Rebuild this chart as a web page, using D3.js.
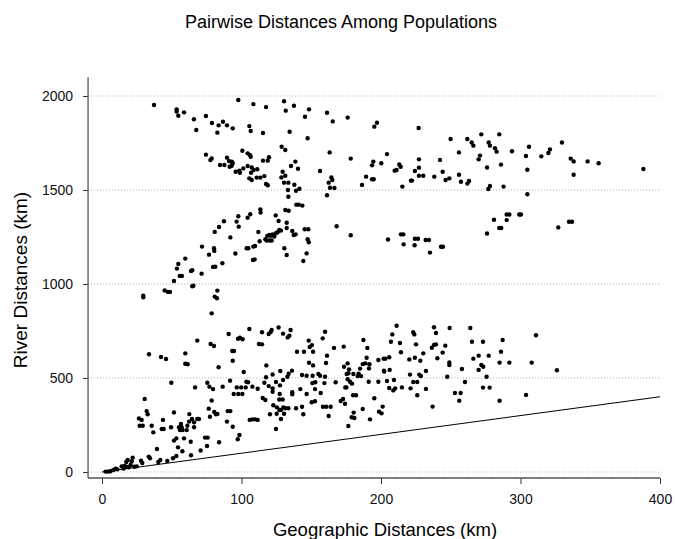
<!DOCTYPE html>
<html>
<head>
<meta charset="utf-8">
<script src="https://cdn.jsdelivr.net/npm/d3@7"></script>
<style>
  body { margin: 0; background: #fff; }
  svg { display: block; font-family: "Liberation Sans", Arial, sans-serif; }
</style>
</head>
<body>
<script>
// [geographic km, river km] pairs
const upperBand = [
  [37.3,1952],[53.5,1929],[53.5,1917],[54.7,1895],[58.8,1913],[65.9,1876],[67.6,1819],[74.5,1894],[78.8,1856],[83.6,1844],
  [82.7,1805],[86.7,1863],[89.6,1844],[93.7,1828],[97.7,1979],[108.5,1957],[117.6,1941],[105.6,1840],[106.6,1814],[115.4,1803],
  [130.5,1972],[131.7,1922],[137.6,1948],[148.4,1929],[145.5,1890],[134.5,1810],[147.4,1775],[161.3,1911],[165.4,1865],[176.1,1885],
  [195.2,1837],[197.1,1858],
  [74.5,1688],[78.6,1668],[77.7,1659],[84.6,1633],[87.7,1633],[89.6,1672],[91,1654],[93,1651],[93.7,1642],[91.5,1624],
  [93,1629],[95.8,1597],[98.4,1603],[98.9,1592],[101.3,1615],[100.6,1709],[104.4,1695],[106,1686],[106.6,1677],[104.4,1628],
  [107.3,1620],[106.8,1592],[108.7,1606],[111.3,1610],[105.6,1562],[107.3,1553],[110.9,1566],[113.5,1566],[116.4,1574],[115.4,1656],
  [118.8,1656],[119.7,1674],[117.6,1532],[118.8,1525],[128.8,1730],[131.4,1713],[129.5,1597],[131.4,1576],[128.6,1567],[130.5,1539],
  [133.6,1539],[135.5,1628],[138.6,1651],[140.5,1613],[137.9,1528],[141.5,1507],[139.1,1496],[133.3,1500],[133.6,1464],[156.3,1601],
  [163.2,1700],[164.4,1567],[165.1,1553],[162.5,1539],[163.4,1512],[166.6,1511],[161.3,1472],[178.3,1667],[189.3,1571],[193.6,1557],
  [194.8,1557],[186.4,1527],[193.6,1631],[194.5,1651],
  [227,1830],[249.9,1771],[261.9,1771],[265,1753],[266.2,1736],[271.9,1796],[277.2,1753],[278.1,1736],[284.8,1796],[281.7,1722],
  [282.9,1704],[293.9,1706],[255.9,1700],[271,1683],[270,1663],[276,1620],[286,1635],[303.9,1681],[306.1,1730],[304.9,1608],
  [314.9,1679],[320,1697],[321.1,1716],[329.7,1753],[336,1667],[338.1,1652],[338.1,1581],[348.1,1652],[356,1642],[388.1,1612],
  [204.3,1691],[200.2,1642],[209.8,1603],[211.2,1606],[213.1,1636],[214.1,1624],[215.3,1518],[221.5,1550],[222.2,1550],[224.3,1601],
  [227.2,1619],[227.2,1663],[227.2,1576],[230.3,1576],[238.2,1571],[242.3,1660],[244.2,1597],[246.3,1553],[249,1562],[255.9,1581],
  [257.3,1544],[261.9,1534],[263.1,1548],[276.9,1505],[278.1,1521],[287.9,1518],[304.9,1477]
];

const middleBand = [
  [139.3,1422],[141,1422],[143.6,1417],[113.5,1397],[113.7,1380],[106.3,1371],[104.4,1353],[97.7,1360],[96.5,1332],[98,1305],
  [87.4,1334],[83.9,1303],[80.8,1277],[124.5,1365],[131.4,1394],[133.8,1390],[126.6,1335],[132.4,1326],[132.4,1298],[127.1,1287],
  [128.3,1284],[125.9,1275],[124.7,1270],[122.3,1264],[120,1261],[118.5,1256],[117.1,1238],[118,1231],[120,1231],[121.6,1231],
  [123.5,1252],[120.9,1256],[136.4,1282],[138.8,1264],[137.4,1261],[145.3,1291],[147.9,1291],[147.4,1238],[148.2,1222],[130.7,1190],
  [132.4,1154],[146.7,1163],[144.3,1122],[168.2,1307],[178.3,1259],[112.1,1277],[113,1227],[109.7,1202],[108.5,1199],[104.9,1190],
  [103.7,1190],[95.6,1162],[92,1248],[109.4,1131],[108.2,1128],[86.3,1110],[81.2,1092],[79.6,1091],[80.3,1190],[80.5,1176],
  [71.7,1199],[76.7,1156],[59.7,1135],[54.7,1107],[53.7,1082],[55.7,1043],[57.3,1043],[51.6,1016],[64.7,1073],[63.8,1069],
  [71.4,1055],[65.5,991],[64.7,988],[44.9,966],[47.3,958],[48.7,958],[29.6,938],[29.6,929],[82.7,965],[80.8,933],
  [82.4,924],[78.6,844],
  [205,1237],[214.3,1264],[216,1264],[216.2,1211],[224.3,1241],[226.5,1241],[224.1,1206],[232,1234],[234.4,1234],[235.1,1167],
  [243,1198],[244.4,1198],[276,1269],[281,1342],[284.8,1298],[286.2,1298],[290.1,1340],[290.1,1370],[292,1370],[299.1,1370],
  [300.3,1370],[327.1,1301],[334.8,1331],[336.9,1331]
];

const lowerBand = [
  [90.8,734],[97.5,709],[98.9,714],[100.8,706],[105.6,761],[114.7,743],[119.5,734],[120.9,745],[121.6,755],[126.6,769],
  [129.8,736],[133.1,716],[134.3,725],[135.2,755],[68.3,699],[77.9,681],[80.3,670],[33.7,626],[42.3,612],[45.9,601],
  [59.7,631],[59.7,576],[61.4,573],[93.4,644],[94.6,644],[93.7,592],[112.5,681],[114.7,679],[83.6,557],[117.8,567],
  [136.2,539],[139.8,640],[144.8,640],[148.9,665],[151.3,640],[150.5,675],[148.2,699],[148.4,581],[151.3,567],[158.2,711],
  [159.9,746],[160.6,580],[161.3,619],[166.3,660],[173.3,667],[173.5,560],[176.1,578],[177.1,546],[187.4,702],[190.2,660],
  [189.7,608],[188.8,578],[186.9,574],[191.7,573],[185,550],[191.4,551],[198.1,596],
  [103.5,480],[104.7,477],[107.8,454],[111.6,443],[117.6,504],[115.2,394],[117.1,383],[116.4,475],[119.5,457],[122.3,445],
  [122.3,427],[122.3,519],[124.7,479],[127.6,461],[127.4,415],[127.8,537],[129.8,489],[132.9,507],[133.8,523],[127.1,386],
  [129.5,386],[127.1,330],[122.8,355],[125.4,344],[128.3,330],[130,344],[131.4,339],[133.6,339],[120.4,307],[125.2,310],
  [128.3,282],[130.5,310],[124.7,229],[136.4,424],[136.4,413],[139.1,339],[143.4,516],[146.7,512],[151,512],[155.1,521],
  [156.3,512],[150.8,473],[152.9,477],[159.4,473],[159.9,507],[142.2,441],[146.7,415],[150.3,371],[152.7,376],[152.7,441],
  [156.8,420],[158.4,347],[160.8,347],[162.5,298],[163.9,347],[167.5,477],[171.1,378],[174.2,363],[172.8,388],[175.4,521],
  [174.4,450],[175.2,450],[176.1,493],[177.8,480],[179.2,470],[176.6,525],[180.2,521],[184,523],[183.3,510],[185.7,510],
  [191.2,480],[195.2,392],[198.1,480],[180,408],[182.1,408],[180.4,316],[179,291],[180.9,287],[176.6,245],[186.9,335],
  [192.1,280],[198.6,321],[144.3,307],[143.4,347],[105.9,277],[107.8,280],[109.7,280],[111.6,277],
  [49.7,475],[66.7,450],[75.5,475],[77,454],[79.6,441],[86.5,454],[91.8,486],[96.6,450],[99.7,450],[103,450],
  [94.4,415],[97.7,415],[100.6,415],[101.6,532],[30.6,388],[32,324],[32.7,307],[26.5,285],[28.4,277],[27,246],
  [29.2,246],[35.6,246],[36.8,211],[43.7,277],[42.8,229],[44.2,229],[51.6,317],[49.5,238],[56.6,255],[55.2,238],
  [57.1,238],[57.8,223],[55.9,223],[61.2,246],[62.4,268],[64.5,282],[66,264],[68.3,282],[69.5,282],[66,238],
  [62.6,308],[60.7,223],[51.6,167],[53.3,179],[58.8,179],[63.6,161],[54.5,131],[73.9,183],[75.8,183],[70.7,114],
  [75.3,138],[83.9,158],[78.6,380],[76.5,337],[80.5,319],[81.7,307],[82.7,309],[77.4,294],[89.6,268],[90.1,324],
  [92,324],[93.7,241],[97.3,174],[98.5,197],[39.4,122],[57.6,110],[63.8,89],[53.3,85],[50.9,73],[46.8,59],
  [41.8,64],[40.4,53],[33.5,82],[34.4,73],[28,60],[28.9,48],[22,76],[21.3,57],[18.4,64],[17.4,53],
  [24.9,30],[23.2,28],[20.5,37],[19.1,25],[17.4,28],[16,32],[14.1,30],[15.5,18],[9.8,18],[11,14],
  [8.1,11],[6,4],[4.5,2],[2.6,2],
  [211.2,778],[208.1,732],[207.1,693],[213.6,686],[214.3,637],[205.9,610],[203.1,603],[201.9,603],[206.2,543],[202.1,539],
  [202.3,534],[204.3,484],[209.3,489],[208.8,434],[210.2,445],[205.9,447],[201.2,348],[200.4,312],[215,450],[220.3,599],
  [220.8,518],[221.2,445],[223.1,743],[223.9,732],[225.1,679],[224.3,608],[223.1,479],[226,479],[226,408],[228.2,592],
  [227.4,518],[228.6,511],[230.3,631],[232.2,537],[232.2,442],[236.5,661],[238,676],[239.4,679],[238,770],[239.4,739],
  [240.4,605],[244.2,635],[246.1,672],[247.5,507],[237,348],[249.2,766],[249,583],[249,569],[253,420],[257.1,420],
  [256.1,379],[258,548],[260.2,479],[264,766],[265.2,693],[266.2,603],[270,619],[270,543],[271.9,569],[273.3,560],
  [273.1,693],[275.7,507],[273.1,449],[277.9,449],[277.2,619],[285,582],[286,640],[287.2,702],[292,582],[285,379],
  [304,410],[308,582],[311.1,727],[326.1,541]
];

const xTicks = [0, 100, 200, 300, 400];
const yTicks = [0, 500, 1000, 1500, 2000];
const refLine = [[0, 0], [400, 400]];   // river = geographic

const width = 675, height = 539;

const svg = d3.select("body").append("svg")
  .attr("width", width)
  .attr("height", height);

const x = d3.scaleLinear().domain([0, 400]).range([102, 660]);
const y = d3.scaleLinear().domain([0, 2000]).range([472, 96]);

const xLo = -10, yLo = -32, yHi = 2100;

// dotted gridlines
svg.append("g")
  .selectAll("line")
  .data(yTicks)
  .join("line")
  .attr("x1", x(xLo))
  .attr("x2", x(400))
  .attr("y1", d => y(d))
  .attr("y2", d => y(d))
  .attr("stroke", "#999")
  .attr("stroke-width", 0.8)
  .attr("stroke-dasharray", "1,2");

// axes
const yAxis = svg.append("g")
  .attr("transform", `translate(${x(xLo)},0)`)
  .call(d3.axisLeft(y).tickValues(yTicks).tickFormat(d3.format("d"))
    .tickSize(5).tickSizeOuter(0).tickPadding(10));
yAxis.select(".domain").remove();

const xAxis = svg.append("g")
  .attr("transform", `translate(0,${y(yLo)})`)
  .call(d3.axisBottom(x).tickValues(xTicks).tickFormat(d3.format("d"))
    .tickSize(6).tickSizeOuter(0).tickPadding(10));
xAxis.select(".domain").remove();

[yAxis, xAxis].forEach(g => {
  g.selectAll("text").attr("font-size", 14).attr("fill", "#111")
    .attr("font-family", "'Liberation Sans', Arial, sans-serif");
  g.selectAll("line").attr("stroke", "#333");
});

svg.append("line")
  .attr("x1", x(xLo)).attr("x2", x(xLo))
  .attr("y1", y(yHi)).attr("y2", y(yLo))
  .attr("stroke", "#555").attr("stroke-width", 1.3);

svg.append("line")
  .attr("x1", x(xLo)).attr("x2", x(400))
  .attr("y1", y(yLo)).attr("y2", y(yLo))
  .attr("stroke", "#555").attr("stroke-width", 1.3);

// reference line
svg.append("path")
  .datum(refLine)
  .attr("d", d3.line().x(d => x(d[0])).y(d => y(d[1])))
  .attr("stroke", "#000")
  .attr("stroke-width", 1.1)
  .attr("fill", "none");

// points
const allPoints = upperBand.concat(middleBand, lowerBand);
svg.append("g")
  .selectAll("circle")
  .data(allPoints)
  .join("circle")
  .attr("cx", d => x(d[0]))
  .attr("cy", d => y(d[1]))
  .attr("r", 2.2)
  .attr("fill", "#000");

// titles
svg.append("text")
  .attr("x", 341)
  .attr("y", 28)
  .attr("text-anchor", "middle")
  .attr("font-size", 18)
  .text("Pairwise Distances Among Populations");

svg.append("text")
  .attr("x", 385)
  .attr("y", 536)
  .attr("text-anchor", "middle")
  .attr("font-size", 18.5)
  .text("Geographic Distances (km)");

svg.append("text")
  .attr("transform", `translate(27,${(y(0) + y(2000)) / 2 - 4}) rotate(-90)`)
  .attr("text-anchor", "middle")
  .attr("font-size", 19)
  .text("River Distances (km)");
</script>
</body>
</html>
